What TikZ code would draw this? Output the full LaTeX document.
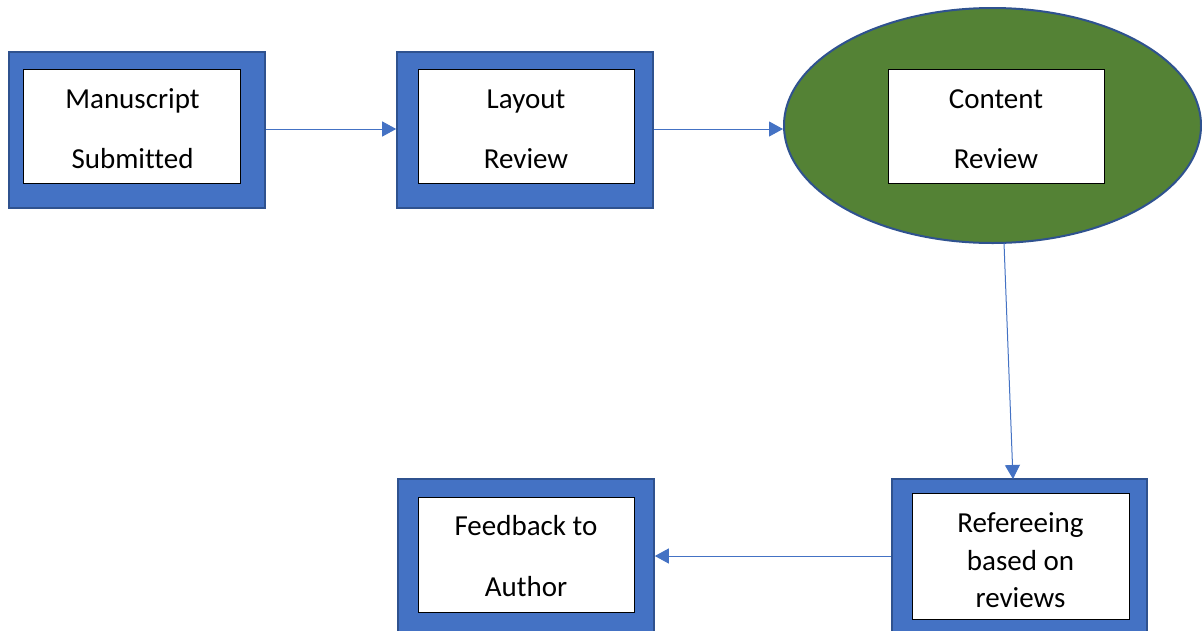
\documentclass[tikz,border=0pt]{standalone}
\usepackage{fontspec}
\setmainfont[Ligatures=NoCommon]{Carlito}
\usetikzlibrary{arrows.meta,shapes.geometric}
\definecolor{accblue}{HTML}{4472C4}
\definecolor{edgeblue}{HTML}{2F528F}
\definecolor{accgreen}{HTML}{548235}
\tikzset{
  outerbox/.style={rectangle, fill=accblue, draw=edgeblue, line width=1.6pt, inner sep=0pt, minimum width=#1, minimum height=156pt},
  innerbox/.style={rectangle, fill=white, draw=black, line width=0.9pt, inner sep=0pt},
  lbl/.style={anchor=base, inner sep=0pt, font=\fontsize{29}{34}\selectfont},
  conn/.style={draw=accblue, line width=1pt, -{Triangle[length=14pt,width=15pt]}},
}
\begin{document}
\begin{tikzpicture}[x=1pt,y=-1pt]
\clip (0,0) rectangle (1202,630);
\fill[white] (0,0) rectangle (1202,630);
% box 1
\node[outerbox=256pt] (b1) at (137,130) {};
\node[innerbox, minimum width=216.5pt, minimum height=114pt] (i1) at (131.75,126) {};
\node[lbl] (t1a) at (132.5,108) {Manuscript};
\node[lbl] (t1b) at (132.5,168) {Submitted};
% box 2
\node[outerbox=256pt] (b2) at (525,130) {};
\node[innerbox, minimum width=216pt, minimum height=114pt] (i2) at (526,126) {};
\node[lbl] (t2a) at (526,108) {Layout};
\node[lbl] (t2b) at (526,168) {Review};
% ellipse
\node[ellipse, fill=accgreen, draw=edgeblue, line width=2pt, inner sep=0pt, minimum width=417pt, minimum height=235pt] (e3) at (992.5,125.5) {};
\node[innerbox, minimum width=216pt, minimum height=114pt] (i3) at (996,126) {};
\node[lbl] (t3a) at (996,108) {Content};
\node[lbl] (t3b) at (996,168) {Review};
% box 5
\node[outerbox=255pt] (b5) at (1019.5,557) {};
\node[innerbox, minimum width=217pt, minimum height=126pt] (i5) at (1020.5,556) {};
\node[lbl] (t5a) at (1020.5,532) {Refereeing};
\node[lbl] (t5b) at (1020.5,570) {based on};
\node[lbl] (t5c) at (1020.5,607) {reviews};
% box 4
\node[outerbox=256pt] (b4) at (526,557) {};
\node[innerbox, minimum width=216pt, minimum height=115pt] (i4) at (526,554.5) {};
\node[lbl] (t4a) at (526,535) {Feedback to};
\node[lbl] (t4b) at (526,596) {Author};
% connectors
\draw[conn] (b1.east |- 0,129) -- (b2.west |- 0,129);
\draw[conn] (b2.east |- 0,129) -- (e3.west |- 0,129);
\coordinate (c3s) at (1004,243);
\coordinate (c3e) at (1013,479);
\draw[conn] (c3s) -- (c3e);
\draw[conn] (b5.west |- 0,556) -- (b4.east |- 0,556);
\end{tikzpicture}
\end{document}
